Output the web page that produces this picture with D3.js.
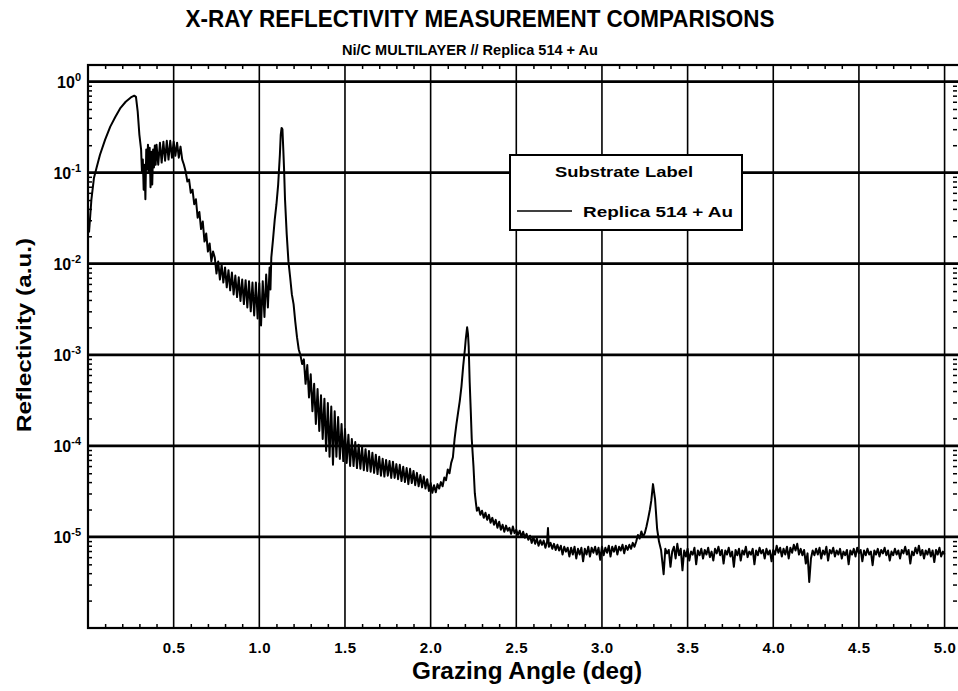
<!DOCTYPE html>
<html>
<head>
<meta charset="utf-8">
<script src="https://cdn.jsdelivr.net/npm/d3@7"></script>
<style>
  html, body { margin: 0; padding: 0; background: #fff; }
  svg { display: block; font-family: "Liberation Sans", Arial, Helvetica, sans-serif; }
</style>
</head>
<body>
<svg id="chart" width="958" height="691"></svg>
<script>
// ---------------- data ----------------
const titleText = "X-RAY REFLECTIVITY MEASUREMENT COMPARISONS";
const subtitleText = "Ni/C MULTILAYER // Replica 514 + Au";
const xAxisTitle = "Grazing Angle (deg)";
const yAxisTitle = "Reflectivity (a.u.)";
const legendTitle = "Substrate Label";
const seriesName = "Replica 514 + Au";

const xTickValues = [0.5, 1.0, 1.5, 2.0, 2.5, 3.0, 3.5, 4.0, 4.5, 5.0];
const xTickLabels = ["0.5", "1.0", "1.5", "2.0", "2.5", "3.0", "3.5", "4.0", "4.5", "5.0"];
const yTickExponents = [0, -1, -2, -3, -4, -5];

// [grazing angle (deg), reflectivity]
const criticalEdge = [
[0.006,0.022],[0.02,0.051],[0.035,0.088],[0.05,0.113],[0.07,0.157],[0.10,0.23],[0.13,0.32],[0.16,0.41],[0.19,0.515],[0.22,0.60],[0.25,0.67],[0.27,0.70],[0.28,0.68],[0.29,0.47],[0.30,0.26],[0.31,0.179],
[0.315,0.10],[0.32,0.139],[0.325,0.065],[0.33,0.122],[0.335,0.051],[0.34,0.179],[0.345,0.108],[0.35,0.203],[0.355,0.10],[0.36,0.188],[0.365,0.069],[0.37,0.17],[0.375,0.074],[0.38,0.179],[0.385,0.114],[0.39,0.198],[0.395,0.122],
[0.40,0.203],[0.41,0.122],[0.42,0.213],[0.43,0.129],[0.44,0.219],[0.45,0.135],[0.46,0.224],[0.47,0.139],[0.48,0.224],[0.49,0.146],[0.50,0.219],[0.51,0.153],[0.52,0.213],[0.53,0.146],[0.54,0.193],[0.55,0.139],
[0.56,0.122],[0.57,0.103],[0.58,0.080],[0.59,0.084],[0.60,0.060],[0.61,0.065],[0.62,0.045],[0.63,0.051],[0.64,0.032],[0.65,0.037],[0.66,0.024],[0.67,0.029],[0.68,0.0175],[0.69,0.0215],[0.70,0.0136],[0.71,0.0167],[0.72,0.0106],[0.73,0.0136]
];
const firstBragg = [
[0.74,0.0117],[0.75,0.0078],[0.76,0.0106],[0.77,0.0067],[0.78,0.0098],[0.79,0.0062],[0.80,0.0091],[0.81,0.0055],[0.82,0.0085],[0.83,0.0051],[0.84,0.0080],[0.85,0.0046],[0.86,0.0074],[0.87,0.0043],[0.88,0.0071],[0.89,0.0039],[0.90,0.0067],[0.91,0.0036],[0.92,0.0066],[0.93,0.0033],[0.94,0.0064],[0.95,0.0030],[0.96,0.0062],[0.97,0.0027],[0.98,0.0062],[0.99,0.0025],[1.00,0.0061],[1.01,0.0021],[1.02,0.0064],[1.03,0.0026],[1.04,0.0076],[1.05,0.0033],[1.06,0.0091],[1.065,0.0052],[1.07,0.0117],
[1.08,0.0185],[1.09,0.0305],[1.10,0.045],[1.11,0.074],[1.12,0.157],[1.125,0.26],[1.13,0.31],[1.135,0.30],[1.14,0.179],[1.145,0.103],[1.15,0.051],[1.16,0.021],[1.17,0.0106],[1.18,0.0071],[1.19,0.0046],[1.20,0.0036],[1.21,0.0023],[1.22,0.00156],[1.23,0.00115],[1.24,0.00099],[1.25,0.00079]
];
const secondBragg = [
[1.26,8.9e-4],[1.27,4.8e-4],[1.28,7.7e-4],[1.29,3.4e-4],[1.30,6.1e-4],[1.31,2.4e-4],[1.32,4.8e-4],[1.33,1.74e-4],[1.34,4.2e-4],[1.35,1.46e-4],[1.36,3.6e-4],[1.37,1.19e-4],[1.38,3.3e-4],[1.39,8.8e-5],[1.40,2.95e-4],[1.41,7.6e-5],[1.42,2.7e-4],[1.43,6.2e-5],[1.44,2.4e-4],[1.45,7.6e-5],[1.46,2.07e-4],[1.47,7.2e-5],[1.48,1.74e-4],[1.49,6.8e-5],[1.50,1.53e-4],[1.51,6.5e-5],[1.52,1.32e-4],[1.53,6.0e-5],[1.54,1.19e-4],[1.55,6.0e-5],[1.56,1.1e-4],[1.57,5.7e-5],[1.58,1.03e-4],[1.59,5.6e-5],[1.60,9.7e-5],[1.61,5.4e-5],[1.62,9.2e-5],[1.63,5.3e-5],[1.64,8.8e-5],[1.65,5.2e-5],[1.66,8.4e-5],[1.67,5.05e-5],[1.68,8.0e-5],[1.69,4.9e-5],[1.70,7.6e-5],[1.71,4.7e-5],[1.72,7.2e-5],[1.73,4.6e-5],[1.74,7.0e-5],[1.75,4.7e-5],[1.76,6.8e-5],[1.77,4.45e-5],[1.78,6.7e-5],[1.79,4.45e-5],[1.80,6.3e-5],[1.81,4.3e-5],[1.82,6.2e-5],[1.83,4.1e-5],[1.84,5.9e-5],[1.85,4.0e-5],[1.86,5.7e-5],[1.87,3.8e-5],[1.88,5.6e-5],[1.89,3.9e-5],[1.90,5.3e-5],[1.91,3.7e-5],[1.92,5.05e-5],[1.93,3.6e-5],[1.94,4.8e-5],[1.95,3.5e-5],[1.96,4.6e-5],[1.97,3.4e-5],[1.98,4.3e-5],[1.99,3.2e-5],[2.00,3.9e-5],[2.01,3.05e-5],[2.02,3.7e-5],[2.03,3.1e-5],[2.04,3.8e-5],[2.05,3.4e-5],
[2.06,4.0e-5],[2.07,3.6e-5],[2.08,4.5e-5],[2.09,4.2e-5],[2.10,5.5e-5],[2.11,5.0e-5],[2.12,6.5e-5],[2.13,7.5e-5],[2.14,1.2e-4],[2.15,1.7e-4],[2.16,2.3e-4],[2.17,3.1e-4],[2.18,4.5e-4],[2.19,7.5e-4],[2.20,1.15e-3],[2.205,1.48e-3],[2.213,2.0e-3],[2.218,1.7e-3],[2.222,1.25e-3],[2.228,5.0e-4],[2.234,2.5e-4],[2.24,1.19e-4],[2.25,6.0e-5],[2.258,3.0e-5],[2.265,2.3e-5]
];
const thirdBragg = [
[2.27,1.94e-5],[2.28,2.1e-5],[2.29,1.75e-5],[2.30,1.94e-5],[2.31,1.62e-5],[2.32,1.84e-5],[2.33,1.54e-5],[2.34,1.75e-5],[2.35,1.43e-5],[2.36,1.62e-5],[2.37,1.36e-5],[2.38,1.54e-5],[2.39,1.26e-5],[2.40,1.47e-5],[2.41,1.2e-5],[2.42,1.36e-5],[2.43,1.14e-5],[2.44,1.33e-5],[2.45,1.17e-5],[2.46,1.26e-5],[2.47,1.08e-5],[2.48,1.3e-5],[2.49,1.1e-5],[2.50,1.2e-5],[2.51,1.05e-5],[2.52,1.17e-5],[2.53,1.0e-5],[2.54,1.14e-5],[2.55,9.8e-6],[2.56,1.08e-5],[2.57,9.3e-6],[2.58,1.03e-5],[2.59,8.6e-6],[2.60,1.0e-5],[2.61,8.4e-6],[2.62,9.6e-6],[2.63,8.0e-6],[2.64,9.2e-6],[2.65,8.2e-6],[2.66,9.1e-6],[2.67,7.6e-6],[2.68,8.9e-6],[2.685,1.25e-5],[2.69,7.8e-6],[2.70,8.6e-6],[2.71,7.4e-6],[2.72,8.4e-6],[2.73,7.2e-6],[2.74,8.2e-6],[2.75,7.1e-6],[2.76,8.0e-6],[2.77,6.4e-6],[2.78,7.8e-6],[2.79,6.9e-6],[2.80,7.6e-6],[2.81,6.1e-6],[2.82,7.6e-6],[2.83,6.4e-6],[2.84,7.8e-6],[2.85,5.8e-6],[2.86,7.4e-6],[2.87,6.4e-6],[2.88,7.6e-6],[2.89,5.4e-6],[2.90,7.4e-6],[2.91,6.4e-6],[2.92,7.8e-6],[2.93,6.1e-6],[2.94,7.6e-6],[2.95,6.7e-6],[2.96,7.8e-6],[2.97,6.4e-6],[2.98,7.6e-6],[2.99,5.6e-6],[3.00,7.8e-6],[3.01,6.3e-6],[3.02,7.6e-6],[3.03,6.7e-6],[3.04,8.0e-6],[3.05,6.1e-6],[3.06,7.8e-6],[3.07,6.9e-6],[3.08,8.0e-6],[3.09,6.4e-6],[3.10,7.8e-6],[3.11,7.1e-6],[3.12,8.2e-6],[3.13,6.6e-6],[3.14,8.0e-6],[3.15,7.2e-6],[3.16,8.2e-6],[3.17,7.4e-6],[3.18,8.6e-6],[3.19,7.8e-6],[3.20,8.9e-6],[3.21,1.05e-5],[3.22,9.6e-6],[3.23,1.15e-5],[3.24,1.0e-5],[3.25,1.1e-5],[3.26,1.3e-5],[3.27,1.6e-5],[3.28,2.0e-5],[3.288,2.5e-5],[3.298,3.8e-5],[3.31,2.6e-5],[3.322,1.23e-5],[3.333,8.9e-6],[3.345,7.2e-6],[3.36,3.9e-6],[3.37,7.4e-6],[3.38,6.6e-6],[3.39,7.2e-6],[3.40,4.7e-6]
];
const highAngleTail = [
[3.41,6.9e-6],[3.42,7.8e-6],[3.43,5.8e-6],[3.44,8.4e-6],[3.45,6.3e-6],[3.46,7.4e-6],[3.47,4.3e-6],[3.48,7.1e-6],[3.49,6.1e-6],[3.50,7.4e-6],[3.51,5.5e-6],[3.52,6.9e-6],[3.53,6.4e-6],[3.54,7.6e-6],[3.55,5.0e-6],[3.56,7.1e-6],[3.57,6.3e-6],[3.58,7.4e-6],[3.59,5.8e-6],[3.60,7.2e-6],[3.61,6.4e-6],[3.62,7.6e-6],[3.63,6.0e-6],[3.64,6.9e-6],[3.65,5.5e-6],[3.66,7.4e-6],[3.67,6.6e-6],[3.68,7.8e-6],[3.69,6.3e-6],[3.70,7.2e-6],[3.71,5.1e-6],[3.72,7.1e-6],[3.73,6.4e-6],[3.74,7.6e-6],[3.75,6.1e-6],[3.76,6.9e-6],[3.77,4.7e-6],[3.78,7.2e-6],[3.79,6.3e-6],[3.80,7.4e-6],[3.81,5.5e-6],[3.82,7.1e-6],[3.83,6.4e-6],[3.84,7.8e-6],[3.85,6.0e-6],[3.86,6.9e-6],[3.87,6.4e-6],[3.88,7.4e-6],[3.89,5.0e-6],[3.90,7.1e-6],[3.91,6.3e-6],[3.92,7.6e-6],[3.93,6.6e-6],[3.94,7.2e-6],[3.95,5.8e-6],[3.96,7.4e-6],[3.97,6.4e-6],[3.98,7.1e-6],[3.99,5.4e-6],
[4.00,7.2e-6],[4.01,6.4e-6],[4.02,8.0e-6],[4.03,6.7e-6],[4.04,7.6e-6],[4.05,6.1e-6],[4.06,7.4e-6],[4.07,6.4e-6],[4.08,7.8e-6],[4.09,5.8e-6],[4.10,7.6e-6],[4.11,6.7e-6],[4.12,8.2e-6],[4.13,7.1e-6],[4.14,8.4e-6],[4.15,6.4e-6],[4.16,7.4e-6],[4.17,6.3e-6],[4.18,7.2e-6],[4.19,5.1e-6],[4.20,6.6e-6],[4.21,3.2e-6],[4.22,5.8e-6],[4.23,7.1e-6],[4.24,6.3e-6],[4.25,7.4e-6],[4.26,6.4e-6],[4.27,7.6e-6],[4.28,5.8e-6],[4.29,7.1e-6],[4.30,6.4e-6],[4.31,7.8e-6],[4.32,5.5e-6],[4.33,7.2e-6],[4.34,6.6e-6],[4.35,7.6e-6],[4.36,6.1e-6],[4.37,7.1e-6],[4.38,6.4e-6],[4.39,7.4e-6],[4.40,5.8e-6],[4.41,6.9e-6],[4.42,6.3e-6],[4.43,7.2e-6],[4.44,5.0e-6],[4.45,7.1e-6],[4.46,6.4e-6],[4.47,7.4e-6],[4.48,6.1e-6],[4.49,7.6e-6],
[4.50,6.6e-6],[4.51,7.2e-6],[4.52,5.4e-6],[4.53,7.1e-6],[4.54,6.3e-6],[4.55,7.4e-6],[4.56,6.4e-6],[4.57,6.9e-6],[4.58,4.9e-6],[4.59,7.1e-6],[4.60,6.4e-6],[4.61,7.4e-6],[4.62,6.1e-6],[4.63,7.2e-6],[4.64,6.6e-6],[4.65,7.6e-6],[4.66,6.3e-6],[4.67,7.1e-6],[4.68,5.5e-6],[4.69,6.9e-6],[4.70,6.3e-6],[4.71,7.4e-6],[4.72,6.4e-6],[4.73,7.1e-6],[4.74,5.8e-6],[4.75,7.2e-6],[4.76,6.6e-6],[4.77,7.8e-6],[4.78,6.4e-6],[4.79,7.2e-6],[4.80,5.1e-6],[4.81,6.9e-6],[4.82,6.3e-6],[4.83,7.6e-6],[4.84,6.6e-6],[4.85,8.0e-6],[4.86,6.3e-6],[4.87,7.2e-6],[4.88,5.8e-6],[4.89,7.1e-6],[4.90,6.4e-6],[4.91,7.4e-6],[4.92,6.1e-6],[4.93,7.1e-6],[4.94,5.3e-6],[4.95,7.2e-6],[4.96,6.4e-6],[4.97,7.6e-6],[4.98,6.1e-6],[4.99,6.9e-6],[5.00,6.4e-6]
];

const scan = [].concat(criticalEdge, firstBragg, secondBragg, thirdBragg, highAngleTail);

// ---------------- layout ----------------
const svg = d3.select("#chart");
const W = 958, H = 691;
const plotLeft = 88, plotRight = 960, plotTop = 65, plotBottom = 628;

svg.append("rect").attr("width", W).attr("height", H).attr("fill", "#fff");

const x = d3.scaleLinear().domain([0, 5.09]).range([plotLeft, plotRight]);
const y = d3.scaleLog().domain([1e-6, 1.52]).range([plotBottom, plotTop]);

// gridlines
const gGrid = svg.append("g");
gGrid.selectAll("line.vg").data(xTickValues).join("line").attr("class", "vg")
  .attr("x1", d => x(d)).attr("x2", d => x(d))
  .attr("y1", plotTop).attr("y2", plotBottom)
  .attr("stroke", "#000").attr("stroke-width", 1.6);
gGrid.selectAll("line.hg").data(yTickExponents).join("line").attr("class", "hg")
  .attr("x1", plotLeft).attr("x2", plotRight)
  .attr("y1", d => y(Math.pow(10, d))).attr("y2", d => y(Math.pow(10, d)))
  .attr("stroke", "#000").attr("stroke-width", 2.8);

// minor ticks through d3 axes
const yMinor = [];
for (let k = -6; k <= 0; k++) for (let m = 2; m <= 9; m++) {
  const v = m * Math.pow(10, k);
  if (v <= 1.52) yMinor.push(v);
}
const xMinor = d3.range(1, 51).map(i => i / 10).filter(v => Math.abs(v * 2 - Math.round(v * 2)) > 1e-6);

function styleAxis(g) {
  g.select(".domain").remove();
  g.selectAll(".tick line").attr("stroke", "#000").attr("stroke-width", 1.5);
}
svg.append("g").attr("transform", `translate(${plotLeft},0)`)
  .call(d3.axisLeft(y).tickValues(yMinor).tickSize(-4).tickFormat("")).call(styleAxis);
svg.append("g").attr("transform", `translate(${plotRight - 3},0)`)
  .call(d3.axisRight(y).tickValues(yMinor).tickSize(-4).tickFormat("")).call(styleAxis);
svg.append("g").attr("transform", `translate(0,${plotBottom})`)
  .call(d3.axisBottom(x).tickValues(xMinor).tickSize(-4).tickFormat("")).call(styleAxis);
svg.append("g").attr("transform", `translate(0,${plotTop})`)
  .call(d3.axisTop(x).tickValues(xMinor).tickSize(-4).tickFormat("")).call(styleAxis);

// frame
svg.append("rect").attr("x", plotLeft).attr("y", plotTop)
  .attr("width", plotRight - plotLeft).attr("height", plotBottom - plotTop)
  .attr("fill", "none").attr("stroke", "#000").attr("stroke-width", 2.2);

// data line
const line = d3.line().x(d => x(d[0])).y(d => y(d[1]));
svg.append("path").datum(scan)
  .attr("d", line).attr("fill", "none")
  .attr("stroke", "#000").attr("stroke-width", 2).attr("stroke-linejoin", "round");

// x tick labels
const xAxisG = svg.append("g").attr("transform", `translate(0,${plotBottom})`)
  .call(d3.axisBottom(x).tickValues(xTickValues).tickSize(0).tickPadding(14)
    .tickFormat((d, i) => xTickLabels[i]));
xAxisG.select(".domain").remove();
xAxisG.selectAll("text").attr("font-size", 15).attr("font-weight", "bold")
  .attr("font-family", "Liberation Sans, Arial, sans-serif").attr("fill", "#000")
  .attr("letter-spacing", 0.6);

// y tick labels
const yLab = svg.append("g");
yTickExponents.forEach(e => {
  const t = yLab.append("text").attr("x", 81).attr("y", y(Math.pow(10, e)) + 6)
    .attr("text-anchor", "end").attr("font-weight", "bold").attr("fill", "#000");
  t.append("tspan").attr("font-size", 16).text("10");
  t.append("tspan").attr("font-size", 11).attr("dy", -7).text(String(e));
});

// titles
svg.append("text").attr("x", 480).attr("y", 27).attr("text-anchor", "middle")
  .attr("font-size", 24).attr("font-weight", "bold").attr("textLength", 589)
  .attr("lengthAdjust", "spacingAndGlyphs").text(titleText);
svg.append("text").attr("x", 470).attr("y", 55).attr("text-anchor", "middle")
  .attr("font-size", 14).attr("font-weight", "bold").attr("textLength", 256)
  .attr("lengthAdjust", "spacingAndGlyphs").text(subtitleText);
svg.append("text").attr("x", 527).attr("y", 679).attr("text-anchor", "middle")
  .attr("font-size", 23).attr("font-weight", "bold").attr("textLength", 230)
  .attr("lengthAdjust", "spacingAndGlyphs").text(xAxisTitle);
svg.append("text").attr("transform", "translate(31,335) rotate(-90)")
  .attr("text-anchor", "middle").attr("font-size", 21).attr("font-weight", "bold")
  .attr("textLength", 194).attr("lengthAdjust", "spacingAndGlyphs").text(yAxisTitle);

// legend
const lg = svg.append("g");
lg.append("rect").attr("x", 510).attr("y", 155).attr("width", 232).attr("height", 75)
  .attr("fill", "#fff").attr("stroke", "#000").attr("stroke-width", 2);
lg.append("text").attr("x", 624).attr("y", 177).attr("text-anchor", "middle")
  .attr("font-size", 15).attr("font-weight", "bold").attr("textLength", 138)
  .attr("lengthAdjust", "spacingAndGlyphs").text(legendTitle);
lg.append("line").attr("x1", 517).attr("x2", 572).attr("y1", 211).attr("y2", 211)
  .attr("stroke", "#000").attr("stroke-width", 1.5);
lg.append("text").attr("x", 583).attr("y", 217)
  .attr("font-size", 15).attr("font-weight", "bold").attr("textLength", 150)
  .attr("lengthAdjust", "spacingAndGlyphs").text(seriesName);
</script>
</body>
</html>
